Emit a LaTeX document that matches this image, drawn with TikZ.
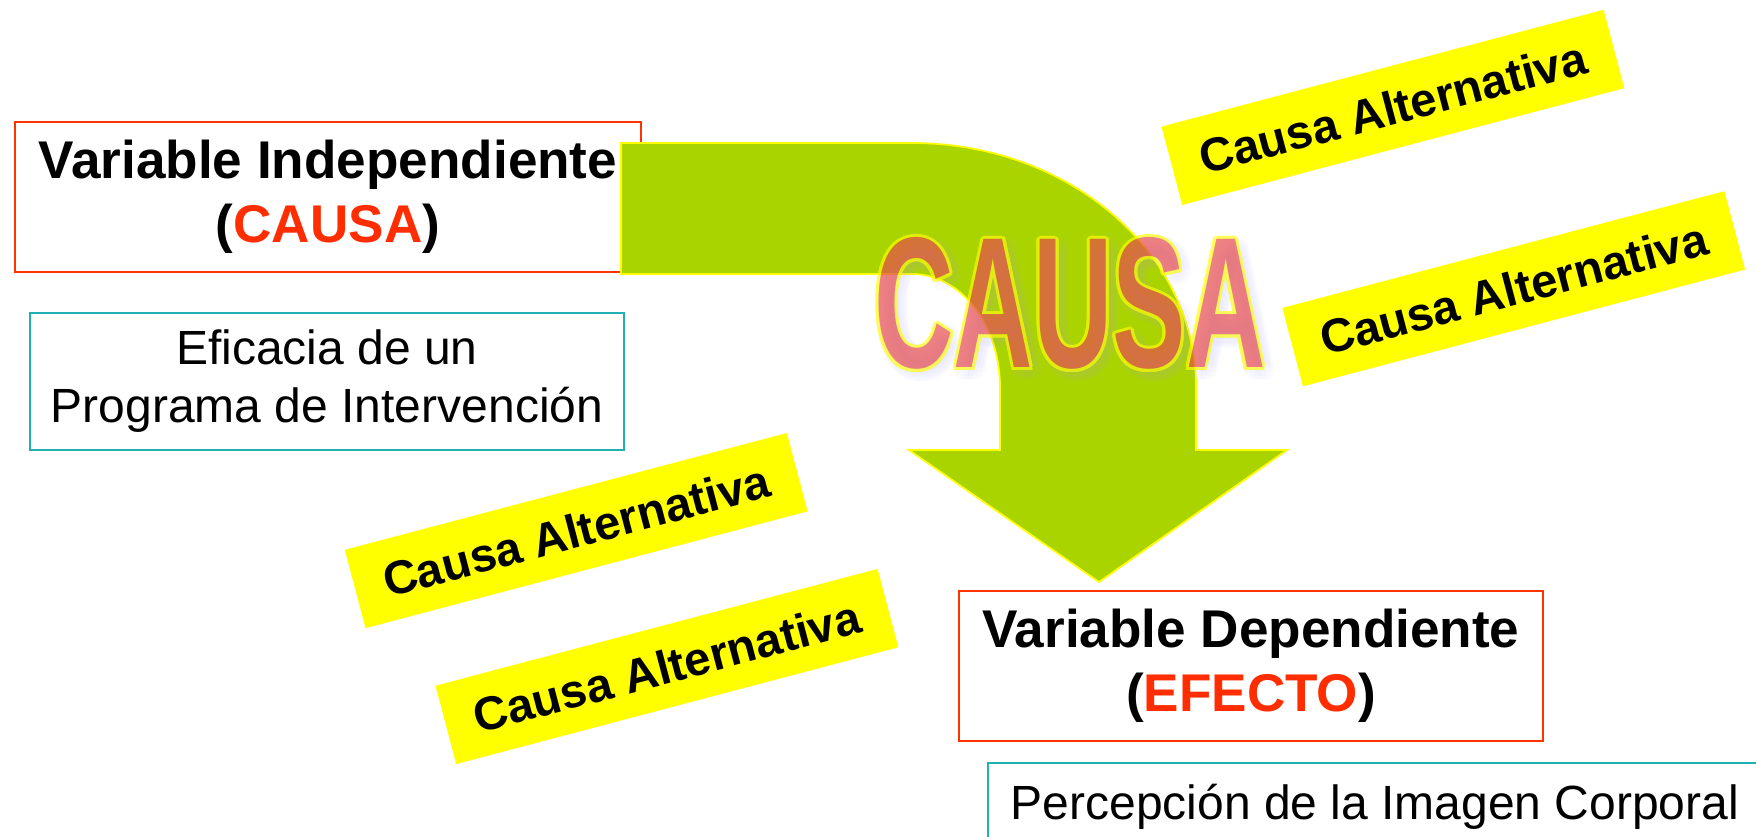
\documentclass[tikz,border=0pt]{standalone}
\usepackage{fontspec}
\setmainfont{Liberation Sans}
\definecolor{arrowgreen}{RGB}{170,212,0}
\definecolor{outlineyel}{RGB}{255,255,0}
\definecolor{boxred}{RGB}{255,51,0}
\definecolor{txtred}{RGB}{255,45,0}
\definecolor{boxteal}{RGB}{32,178,178}
\definecolor{altyel}{RGB}{255,255,0}
\definecolor{causapink}{RGB}{234,70,66}
\definecolor{glowblue}{RGB}{170,170,255}
\newcommand\bigcausa[1]{\scalebox{0.59}[1]{\color{#1}\fontsize{53pt}{53pt}\selectfont\bfseries CAUSA}}
\tikzset{
  varbox/.style={draw=boxred, line width=0.6pt, fill=white, inner sep=0pt, align=center,
    font=\fontsize{15.1pt}{18.2pt}\selectfont\bfseries},
  tealbox/.style={draw=boxteal, line width=0.6pt, fill=white, inner sep=0pt, align=center,
    font=\fontsize{13.65pt}{16.5pt}\selectfont},
  altbox/.style={fill=altyel, inner sep=0pt, minimum width=4.57cm, minimum height=0.81cm,
    rotate=14.8, font=\fontsize{13.4pt}{16pt}\selectfont\bfseries},
  bigarrow/.style={fill=arrowgreen, draw=outlineyel, line width=0.5pt, line join=miter},
  causaletters/.style={anchor=base, inner sep=0pt},
}
\begin{document}
\begin{tikzpicture}[x=0.01cm, y=-0.01cm]
\useasboundingbox (0,0) rectangle (1756,837);
\clip (0,0) rectangle (1756,837);
\fill[white] (0,0) rectangle (1756,837);

% independent variable box (under the arrow)
\node[varbox, minimum width=6.25cm, minimum height=1.5cm] (vi) at (328,197)
  {Variable Independiente\\(\textcolor{txtred}{CAUSA})};
\node[tealbox, minimum width=5.93cm, minimum height=1.37cm] (prog) at (327,381.5)
  {Eficacia de un\\Programa de Intervención};

% big bent arrow
\filldraw[bigarrow] (621,143) -- (912,143)
  .. controls (1068.9,143) and (1196,252.2) .. (1196,387)
  -- (1196,450) -- (1287,450) -- (1099,582) -- (909,450) -- (1000,450) -- (1000,387)
  .. controls (1000,324.6) and (960.6,274) .. (912,274)
  -- (621,274) -- cycle;

% soft glow behind the word
\foreach \a in {0,30,...,330}
  \node[causaletters, opacity=0.03, shift={(\a:8)}, shift={(5,5)}] at (1070,368) {\bigcausa{glowblue}};

% big word CAUSA, semi-transparent with yellow outline
\begin{scope}[transparency group, opacity=0.66]
  \foreach \a in {0,22.5,...,337.5}
    \node[causaletters, shift={(\a:3)}] at (1070,368) {\bigcausa{outlineyel}};
  \node[causaletters] (causa) at (1070,368) {\bigcausa{causapink}};
\end{scope}

% alternative causes
\node[altbox] (alt1) at (1392.9,107.4) {Causa Alternativa};
\node[altbox] (alt2) at (1513.7,288.75) {Causa Alternativa};
\node[altbox] (alt3) at (576.2,530.6) {Causa Alternativa};
\node[altbox] (alt4) at (666.9,666.5) {Causa Alternativa};

% dependent variable
\node[varbox, minimum width=5.84cm, minimum height=1.5cm] (vd) at (1251,666)
  {Variable Dependiente\\(\textcolor{txtred}{EFECTO})};

\draw[draw=boxteal, line width=0.6pt, fill=white] (988,763) rectangle (1800,900);
\node[anchor=base west, inner sep=0pt, font=\fontsize{13.65pt}{16.5pt}\selectfont] (perc) at (1010,820)
  {Percepción de la Imagen Corporal};
\end{tikzpicture}
\end{document}
